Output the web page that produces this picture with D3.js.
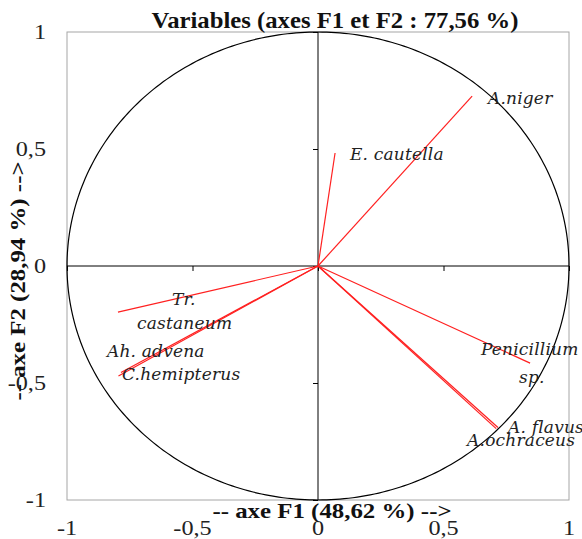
<!DOCTYPE html>
<html><head><meta charset="utf-8">
<script src="https://cdn.jsdelivr.net/npm/d3@7"></script>
<style>body{margin:0;background:#fff}svg{display:block}</style>
</head><body>
<script>
const variables = ["A.niger","E. cautella","Tr. castaneum","Ah. advena","C.hemipterus","Penicillium sp.","A. flavus","A.ochraceus"];
const f1 = [0.614, 0.068, -0.797, -0.785, -0.795, 0.845, 0.717, 0.710];
const f2 = [0.726, 0.483, -0.197, -0.455, -0.470, -0.415, -0.690, -0.695];
const labelLines = [["A.niger"],["E. cautella"],["Tr.","castaneum"],["Ah. advena"],["C.hemipterus"],["Penicillium","sp."],["A. flavus"],["A.ochraceus"]];
const labelX = [[0.677],[0.127],[-0.582,-0.721],[-0.841],[-0.781],[0.649,0.801],[0.757],[0.594]];
const labelY = [[0.692],[0.453],[-0.167,-0.269],[-0.389],[-0.487],[-0.380,-0.500],[-0.714],[-0.769]];
const ticks = [-1,-0.5,0,0.5,1];
const title = "Variables (axes F1 et F2 : 77,56 %)";
const xTitle = "-- axe F1 (48,62 %) -->";
const yTitle = "-- axe F2 (28,94 %) -->";

const W=582,H=539;
const svg=d3.select("body").append("svg").attr("width",W).attr("height",H);
const x=d3.scaleLinear().domain([-1,1]).range([67,569]);
const y=d3.scaleLinear().domain([-1,1]).range([500,32]);
const fmt=d=>String(d).replace(".",",");

function stext(g,tx,ty,sx,rot,size,weight,anchor,t){
  return g.append("text").attr("transform",`translate(${tx},${ty}) rotate(${rot}) scale(${sx},1)`)
    .attr("text-anchor",anchor).attr("font-family","Liberation Serif").attr("font-weight",weight)
    .attr("font-size",size).attr("fill","#111").text(t);
}

// frame
svg.append("rect").attr("x",x(-1)).attr("y",y(1)).attr("width",x(1)-x(-1)).attr("height",y(-1)-y(1))
  .attr("fill","none").attr("stroke","#a6a6a6").attr("stroke-width",1);

// circle
const circ=d3.range(0,361,1).map(a=>[Math.cos(a*Math.PI/180),Math.sin(a*Math.PI/180)]);
svg.append("path").attr("d",d3.line().x(d=>x(d[0])).y(d=>y(d[1]))(circ))
  .attr("fill","none").attr("stroke","#000").attr("stroke-width",1.2);

// zero axes
svg.append("line").attr("x1",x(-1)).attr("x2",x(1)).attr("y1",y(0)).attr("y2",y(0)).attr("stroke","#000");
svg.append("line").attr("x1",x(0)).attr("x2",x(0)).attr("y1",y(1)).attr("y2",y(-1)).attr("stroke","#000");
const gx=svg.append("g").attr("transform",`translate(0,${y(0)})`)
  .call(d3.axisBottom(x).tickValues(ticks).tickSize(5).tickFormat(""));
gx.select(".domain").remove();
const gy=svg.append("g").attr("transform",`translate(${x(0)},0)`)
  .call(d3.axisLeft(y).tickValues(ticks).tickSize(5).tickFormat(""));
gy.select(".domain").remove();
svg.selectAll(".tick line").attr("stroke","#000");

// tick labels
const tl=svg.append("g").attr("fill","#222");
ticks.forEach(d=>{
  stext(tl,x(d),535,1.1,0,22,"normal","middle",fmt(d)).attr("fill","#222");
  stext(tl,46,y(d)+7,1.1,0,22,"normal","end",fmt(d)).attr("fill","#222");
});

// vectors
svg.append("g").selectAll("line").data(variables).join("line")
  .attr("x1",x(0)).attr("y1",y(0)).attr("x2",(d,i)=>x(f1[i])).attr("y2",(d,i)=>y(f2[i]))
  .attr("stroke","#ff2020").attr("stroke-width",1.2);

// labels
variables.forEach((v,i)=>{
  labelLines[i].forEach((t,j)=>{
    svg.append("text").attr("x",x(labelX[i][j])).attr("y",y(labelY[i][j]))
      .attr("font-family","DejaVu Serif").attr("font-style","italic").attr("font-size",17)
      .attr("letter-spacing",0.2).attr("fill","#222").text(t);
  });
});

// titles
stext(svg,335,28,1.075,0,23,"bold","middle",title);
stext(svg,332,518,1.13,0,22,"bold","middle",xTitle);
stext(svg,25,281,1.13,-90,22,"bold","middle",yTitle);
</script>
</body></html>
